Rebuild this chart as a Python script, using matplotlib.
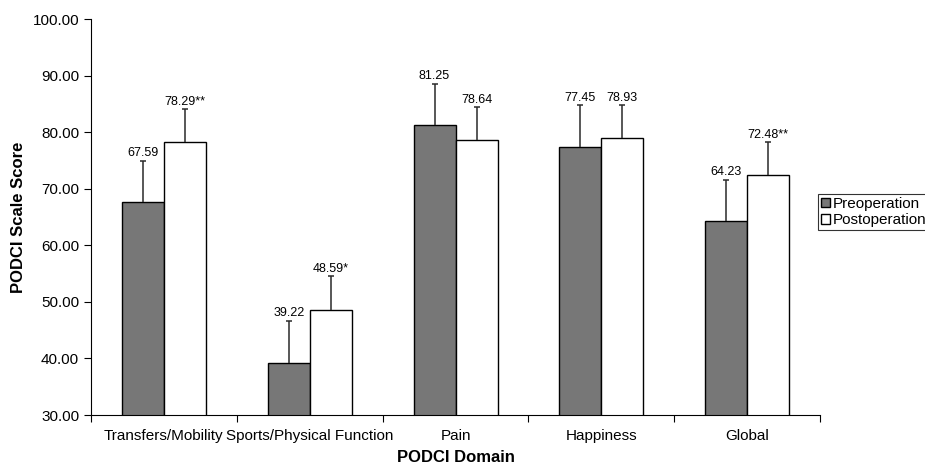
import numpy as np
import matplotlib
matplotlib.use("Agg")
import matplotlib.pyplot as plt

plt.rcParams['font.family'] = ['Liberation Sans', 'DejaVu Sans']

domains = ['Transfers/Mobility', 'Sports/Physical Function', 'Pain', 'Happiness', 'Global']
preop = [67.59, 39.22, 81.25, 77.45, 64.23]
postop = [78.29, 48.59, 78.64, 78.93, 72.48]
preop_err = [7.34, 7.44, 7.35, 7.37, 7.34]
postop_err = [5.80, 5.97, 5.77, 5.89, 5.80]
preop_lbl = ['67.59', '39.22', '81.25', '77.45', '64.23']
postop_lbl = ['78.29**', '48.59*', '78.64', '78.93', '72.48**']

x = np.arange(len(domains))
w = 0.288

fig = plt.figure(figsize=(9.25, 4.65), dpi=100)
ax = fig.add_axes([0.0984, 0.1075, 0.7881, 0.8515])

err_kw = dict(ecolor='#2a2a2a', elinewidth=1.1, capsize=2.5, capthick=1.1)
b1 = ax.bar(x - w/2, preop, w, color='#777777', edgecolor='black', linewidth=1.0,
            yerr=[np.zeros(5), preop_err], error_kw=err_kw, label='Preoperation')
b2 = ax.bar(x + w/2, postop, w, color='white', edgecolor='black', linewidth=1.0,
            yerr=[np.zeros(5), postop_err], error_kw=err_kw, label='Postoperation')
# only the upper cap should show
for b in (b1, b2):
    caps = b.errorbar.lines[1]
    caps[0].set_visible(False)

# value labels above the error caps
for i in range(len(domains)):
    ax.annotate(preop_lbl[i], (x[i] - w/2, preop[i] + preop_err[i]), xytext=(0, 1),
                textcoords='offset points', ha='center', va='bottom', fontsize=9)
    ax.annotate(postop_lbl[i], (x[i] + w/2, postop[i] + postop_err[i]), xytext=(0, 1),
                textcoords='offset points', ha='center', va='bottom', fontsize=9)

ax.set_ylim(30, 100)
ax.set_xlim(-0.5, len(domains) - 0.5)
ax.set_yticks(np.arange(30, 101, 10))
ax.set_yticklabels(['%.2f' % v for v in np.arange(30, 101, 10)], fontsize=11)

ax.set_xticks(np.arange(-0.5, len(domains)), minor=False)
ax.set_xticklabels([])
ax.set_xticks(x, minor=True)
ax.set_xticklabels(domains, minor=True, fontsize=11)
ax.tick_params(axis='x', which='minor', length=0, pad=10)
ax.tick_params(axis='x', which='major', length=5, direction='out')
ax.tick_params(axis='y', length=5, direction='out')

ax.spines['top'].set_visible(False)
ax.spines['right'].set_visible(False)

ax.set_xlabel('PODCI Domain', fontsize=12, fontweight='bold', labelpad=5)
ax.set_ylabel('PODCI Scale Score', fontsize=12, fontweight='bold', labelpad=4.5)

leg = fig.legend(handles=[b1, b2], loc='upper left', bbox_to_anchor=(0.884, 0.583),
                 fontsize=11, frameon=True, fancybox=False, edgecolor='black',
                 borderpad=0.2, handlelength=0.6, handleheight=0.6, handletextpad=0.2,
                 labelspacing=0.15, borderaxespad=0)
leg.get_frame().set_linewidth(0.8)

fig.savefig('out.png', dpi=100)
